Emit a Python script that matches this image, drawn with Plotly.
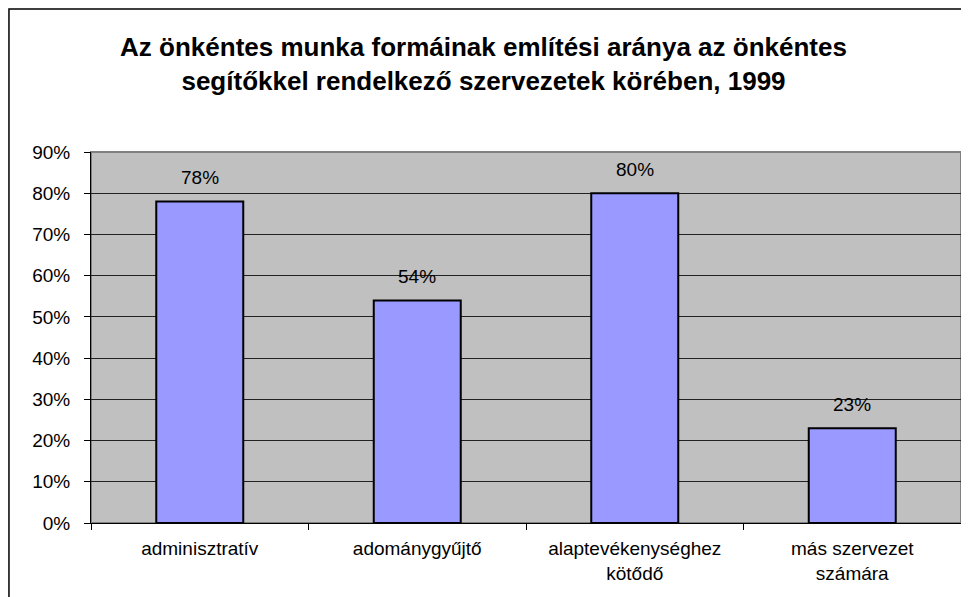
import plotly.graph_objects as go

categories = ["adminisztratív", "adománygyűjtő", "alaptevékenységhez<br>kötődő", "más szervezet<br>számára"]
values = [78, 54, 80, 23]
labels = ["78%", "54%", "80%", "23%"]
yticks = [0, 10, 20, 30, 40, 50, 60, 70, 80, 90]
ytick_text = [f"{v}%" for v in yticks]
title = "Az önkéntes munka formáinak említési aránya az önkéntes<br>segítőkkel rendelkező szervezetek körében, 1999"

FONT = "Liberation Sans, Arial, sans-serif"

fig = go.Figure()
fig.add_trace(go.Bar(
    x=categories, y=values, width=0.4,
    marker=dict(color="#9999FF", line=dict(color="black", width=2)),
    hoverinfo="skip",
))

for c, v, t in zip(categories, values, labels):
    fig.add_annotation(x=c, y=v, text=t, showarrow=False, yanchor="bottom", yshift=11,
                       font=dict(family=FONT, size=19, color="black"))

# plot area background with gray border
fig.add_shape(type="rect", xref="paper", yref="paper", x0=0, x1=1, y0=0, y1=1,
              fillcolor="#C0C0C0", line=dict(color="#808080", width=2), layer="below")
# outer chart border (cut off on right and bottom like reference)
fig.add_shape(type="rect", xref="paper", yref="paper", x0=-0.0943, x1=1.2, y0=-0.5, y1=1.3854,
              line=dict(color="black", width=1.5), fillcolor="rgba(0,0,0,0)", layer="below")

fig.update_layout(
    width=961, height=589,
    margin=dict(l=83, r=8, t=144, b=74),
    paper_bgcolor="white", plot_bgcolor="rgba(0,0,0,0)",
    showlegend=False,
    font=dict(family=FONT, size=19, color="black"),
    title=dict(text="<b>" + title + "</b>", x=0.4948, xref="container", xanchor="center",
               y=0.9185, yanchor="middle", yref="container",
               font=dict(family=FONT, size=26, color="black")),
    xaxis=dict(showline=True, linecolor="black", linewidth=1, ticks="outside", ticklen=6,
               tickcolor="black", tickson="boundaries", showgrid=False,
               tickfont=dict(family=FONT, size=19, color="black"), ticklabelstandoff=8),
    yaxis=dict(range=[0, 90], tickvals=yticks, ticktext=ytick_text, showline=True,
               linecolor="black", linewidth=1, ticks="outside", ticklen=6, tickcolor="black",
               showgrid=True, gridcolor="#222222", gridwidth=1, zeroline=False,
               tickfont=dict(family=FONT, size=19, color="black"), ticklabelstandoff=10),
)

fig.write_html("out.html")
